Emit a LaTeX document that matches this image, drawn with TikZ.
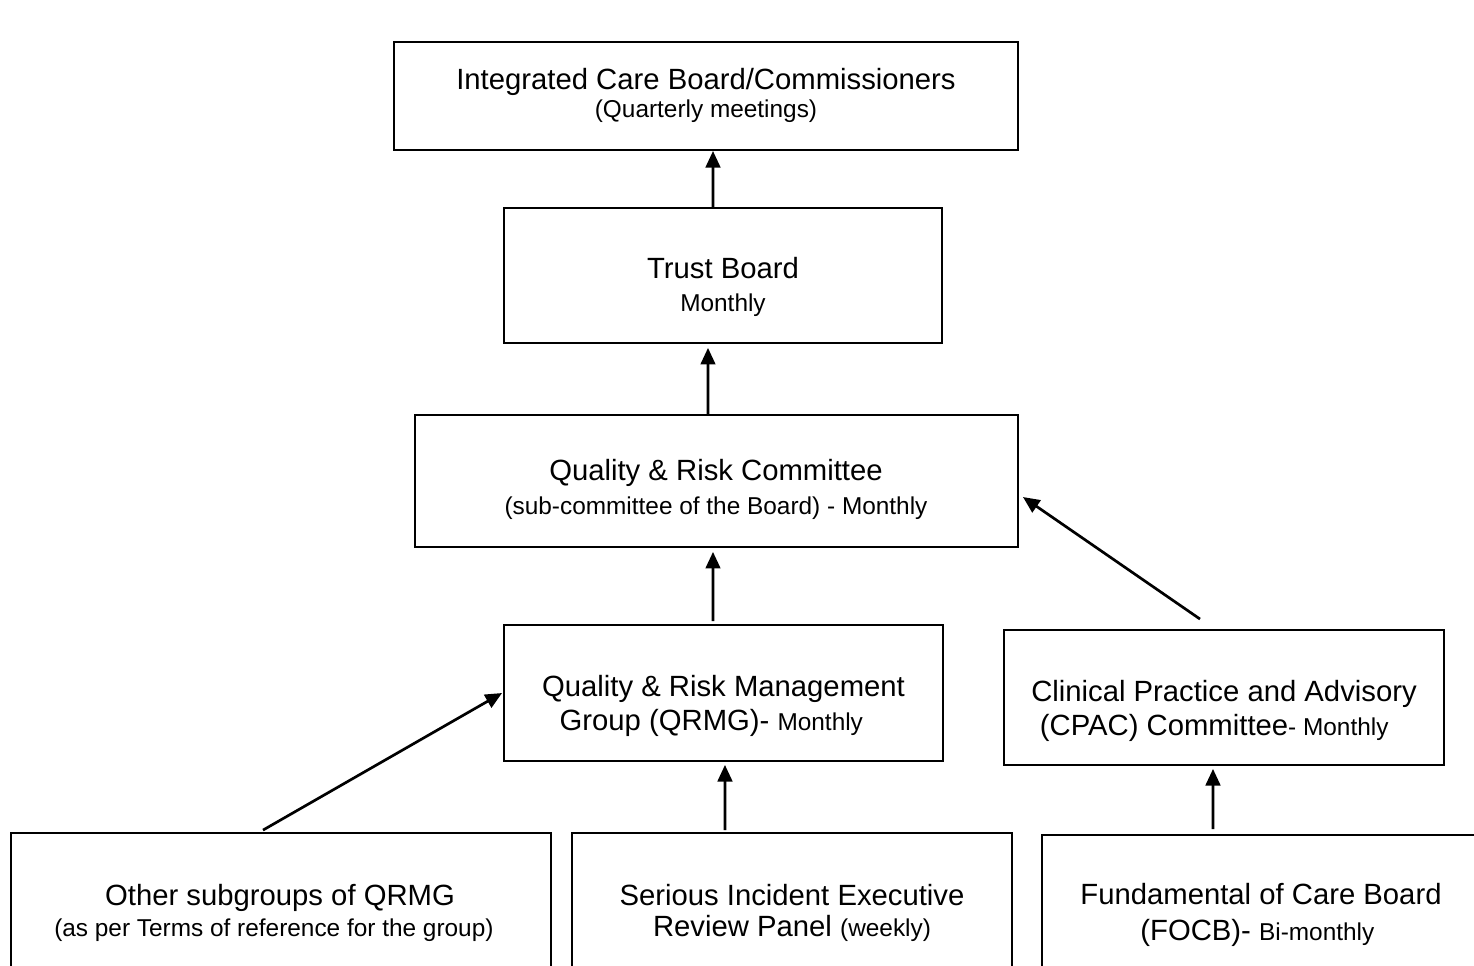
\documentclass[tikz,border=0pt]{standalone}
\usepackage{fontspec}
\setmainfont{Liberation Sans}
\usetikzlibrary{arrows.meta}
\begin{document}
\begin{tikzpicture}[x=0.41pt,y=-0.41pt,
  box/.style={draw=black,line width=0.8pt,rectangle,inner sep=0pt},
  txt/.style={align=center,inner sep=0pt,font=\fontsize{12}{13.5}\selectfont},
  arr/.style={line width=1.1pt,-{Triangle[length=6.8pt,width=6pt]}}]
\newcommand{\smtxt}[1]{{\fontsize{10}{12}\selectfont #1}}
\useasboundingbox (0,0) rectangle (1474,965);
\clip (0,0) rectangle (1474,965);
% boxes
\node[box,minimum width=624*0.41pt,minimum height=108*0.41pt] (icb) at (706,96) {};
\node[box,minimum width=438*0.41pt,minimum height=135*0.41pt] (tb) at (723,275.5) {};
\node[box,minimum width=603*0.41pt,minimum height=132*0.41pt] (qrc) at (716.5,481) {};
\node[box,minimum width=439*0.41pt,minimum height=136*0.41pt] (qrmg) at (723.5,693) {};
\node[box,minimum width=440*0.41pt,minimum height=135*0.41pt] (cpac) at (1224,697.5) {};
\node[box,minimum width=540*0.41pt,minimum height=200*0.41pt] (other) at (281,933) {};
\node[box,minimum width=440*0.41pt,minimum height=200*0.41pt] (sierp) at (792,933) {};
\node[box,minimum width=436*0.41pt,minimum height=200*0.41pt] (focb) at (1260,935) {};
% texts
\node[txt] (ticb) at (706,95) {Integrated Care Board/Commissioners\\[-2pt]\smtxt{(Quarterly meetings)}};
\node[txt] (ttb) at (723,287) {Trust Board\\\smtxt{Monthly}};
\node[txt] (tqrc) at (716,489) {Quality \& Risk Committee\\[0.5pt]\smtxt{(sub-committee of the Board) - Monthly}};
\node[txt] (tqrmg) at (723.5,706) {Quality \& Risk Management\\[0.5pt]Group (QRMG)- \smtxt{Monthly}\hspace*{10pt}};
\node[txt] (tcpac) at (1224,710.5) {Clinical Practice and Advisory\\[0.5pt](CPAC) Committee\smtxt{- Monthly}\hspace*{8pt}};
\node[txt] (tother) at (280,913) {Other subgroups of QRMG\\[-1pt]\smtxt{(as per Terms of reference for the group)}\hspace*{5pt}};
\node[txt] (tsierp) at (792,913) {Serious Incident Executive\\[-1pt]Review Panel \smtxt{(weekly)}};
\node[txt] (tfocb) at (1261,915) {Fundamental of Care Board\\[1pt](FOCB)- \smtxt{Bi-monthly}\hspace*{3pt}};
% connectors
\draw[arr] ([xshift=-4.1pt,yshift=-0.8pt]tb.north) -- ([xshift=2.87pt]icb.south);
\draw[arr,shorten >=1.6pt] ([xshift=-3.49pt,yshift=-0.8pt]qrc.north) -- ([xshift=-6.15pt]tb.south);
\draw[arr,shorten >=1.6pt] ([xshift=-4.3pt,yshift=1.2pt]qrmg.north) -- ([xshift=-1.44pt]qrc.south);
\draw[arr] ([xshift=-9.84pt,yshift=4.1pt]cpac.north) -- ([xshift=1.64pt,yshift=-6.56pt]qrc.east);
\draw[arr] ([xshift=-7.38pt,yshift=0.8pt]other.north) -- ([xshift=-0.41pt]qrmg.west);
\draw[arr,shorten >=1.2pt] ([xshift=-27.47pt,yshift=0.8pt]sierp.north) -- ([xshift=0.6pt]qrmg.south);
\draw[arr,shorten >=1.2pt] ([xshift=-19.27pt,yshift=2pt]focb.north) -- ([xshift=-4.51pt]cpac.south);
\end{tikzpicture}
\end{document}
